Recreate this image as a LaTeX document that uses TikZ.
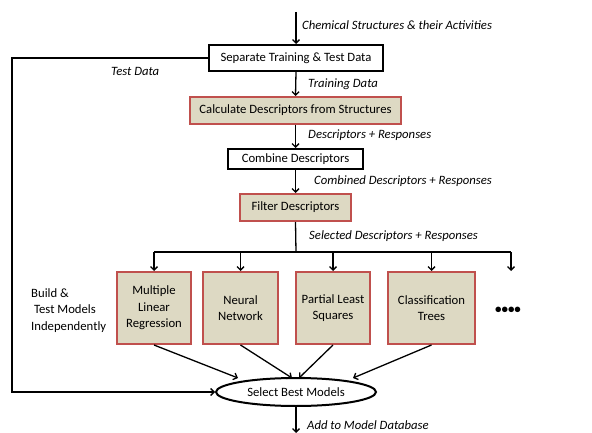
\documentclass[tikz,border=0pt]{standalone}
\usepackage{fontspec}
\setmainfont{Carlito}
\usetikzlibrary{arrows.meta,shapes.geometric}
\definecolor{boxfill}{HTML}{DDD9C3}
\definecolor{boxred}{HTML}{C0504D}
\begin{document}
\begin{tikzpicture}[x=1pt,y=-1pt,
  every node/.style={font=\fontsize{12.7}{16.5}\selectfont, inner sep=0pt},
  blackbox/.style={draw=black, line width=2pt, fill=white},
  redbox/.style={draw=boxred, line width=2pt, fill=boxfill},
  lbl/.style={anchor=west, font=\fontsize{12.7}{15}\selectfont\itshape},
  conn/.style={line width=1.3pt, -{Straight Barb[length=3.5pt,width=7pt,line width=1.3pt]}},
  plain/.style={line width=1.3pt}]
\useasboundingbox (0,0) rectangle (592,433);

\node[blackbox, minimum width=174pt, minimum height=26pt] (sep) at (296,58) {Separate Training \& Test Data};
\node[redbox, minimum width=211pt, minimum height=27pt] (calc) at (295.5,110.5) {Calculate Descriptors from Structures};
\node[blackbox, minimum width=135pt, minimum height=20pt] (comb) at (295.5,159) {Combine Descriptors};
\node[redbox, minimum width=111pt, minimum height=27pt] (filt) at (295.5,207.5) {Filter Descriptors};

\node[redbox, minimum width=74pt, minimum height=72pt, align=center] (mlr) at (154,308) {Multiple\\Linear\\Regression};
\node[redbox, minimum width=75pt, minimum height=72pt, align=center] (nn) at (240.5,308) {Neural\\Network};
\node[redbox, minimum width=74pt, minimum height=72pt, align=center] (pls) at (333,308) {Partial Least\\Squares};
\node[redbox, minimum width=87pt, minimum height=72pt, align=center] (ct) at (431.5,308) {Classification\\Trees};
\node[font=\fontsize{13}{13}\selectfont\bfseries] (dots) at (508,310) {••••};

\node[ellipse, draw=black, line width=2pt, fill=white, minimum width=160pt, minimum height=28pt] (ell) at (296,392) {Select Best Models};

\node[anchor=north west, align=left] (build) at (31,288) {Build \&\\\ Test Models\\Independently};

% labels
\node[lbl] (l1) at (302,25) {Chemical Structures \& their Activities};
\node[lbl] (l2) at (111,71) {Test Data};
\node[lbl] (l3) at (308,84) {Training Data};
\node[lbl] (l4) at (308,135) {Descriptors + Responses};
\node[lbl] (l5) at (314,181) {Combined Descriptors + Responses};
\node[lbl] (l6) at (309,236) {Selected Descriptors + Responses};
\node[lbl] (l7) at (307,425) {Add to Model Database};

% coordinates
\coordinate (top) at (296,12);
\coordinate (bus) at (296,252);
\coordinate (busL) at (154,252);
\coordinate (busR) at (511,252);
\coordinate (more) at (511,271);
\coordinate (tl) at (12,58);
\coordinate (bl) at (12,392);
\coordinate (e1) at (238,378);
\coordinate (e2) at (292,378);
\coordinate (e3) at (299,378);
\coordinate (e4) at (353,378);
\coordinate (out) at (296,433);

% connectors
\draw[conn] (top) -- (sep.north);
\draw[conn] (sep.south) -- (calc.north);
\draw[conn] (calc.south) -- (comb.north);
\draw[conn] (comb.south) -- (filt.north);
\draw[plain] (filt.south) -- (bus);
\draw[plain] (busL) -- (busR);
\draw[conn] (busL) -- (mlr.north);
\draw[conn] (nn.north |- bus) -- (nn.north);
\draw[conn] (pls.north |- bus) -- (pls.north);
\draw[conn] (ct.north |- bus) -- (ct.north);
\draw[conn] (busR) -- (more);
\draw[conn] (sep.west) -- (tl) -- (bl) -- (ell.west);
\draw[conn] (mlr.south) -- (e1);
\draw[conn] (nn.south) -- (e2);
\draw[conn] (pls.south) -- (e3);
\draw[conn] (ct.south) -- (e4);
\draw[conn] (ell.south) -- (out);
\end{tikzpicture}
\end{document}
